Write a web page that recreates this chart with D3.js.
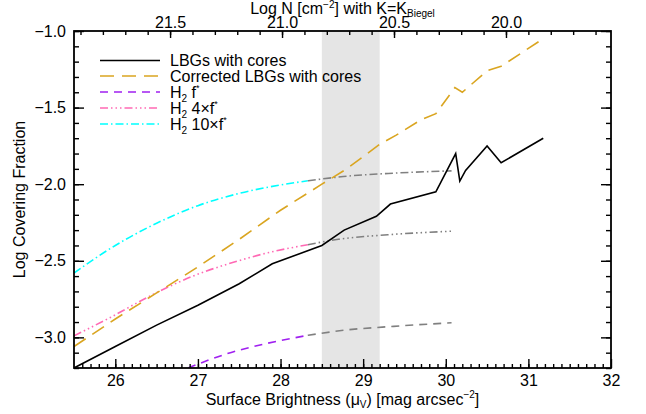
<!DOCTYPE html>
<html>
<head>
<meta charset="utf-8">
<script src="https://cdn.jsdelivr.net/npm/d3@7"></script>
<style>
  body { margin: 0; background: #fff; }
  svg text { font-family: "Liberation Sans", Arial, sans-serif; fill: #000; }
</style>
</head>
<body>
<svg id="chart" width="646" height="414"></svg>
<script>
// surface brightness (mag arcsec^-2) vs log covering fraction

var lbgMu  = [25.5, 26.0, 26.5, 27.0, 27.5, 27.9, 28.5, 28.77, 29.16, 29.33, 29.88, 30.12, 30.17, 30.24, 30.5, 30.67, 31.18];
var lbgCov = [-3.2, -3.06, -2.92, -2.79, -2.65, -2.52, -2.40, -2.30, -2.21, -2.13, -2.05, -1.80, -1.98, -1.91, -1.75, -1.86, -1.70];

var corrMu  = [25.5, 26.0, 26.5, 27.0, 27.5, 28.0, 28.5, 28.8, 29.2, 29.4, 29.7, 29.88, 30.11, 30.2, 30.5, 30.67, 31.18];
var corrCov = [-3.06, -2.88, -2.71, -2.54, -2.36, -2.17, -2.00, -1.90, -1.74, -1.68, -1.58, -1.54, -1.37, -1.40, -1.26, -1.23, -1.05];

// H2 models, the part past muSplit is drawn grey
var muSplit = 28.33;
var h2Mu  = [26.88, 27.35, 27.83, 28.33, 28.76, 29.37, 30.07];
var h2Cov = [-3.20, -3.107, -3.04, -2.987, -2.954, -2.928, -2.905];

var h2x4Mu  = [25.5, 25.94, 26.42, 26.94, 27.43, 27.83, 28.33, 28.7, 29.3, 30.07];
var h2x4Cov = [-2.99, -2.87, -2.73, -2.60, -2.51, -2.45, -2.395, -2.36, -2.33, -2.307];

var h2x10Mu  = [25.5, 26.0, 26.5, 27.0, 27.5, 28.0, 28.33, 28.76, 29.37, 30.07];
var h2x10Cov = [-2.58, -2.40, -2.255, -2.14, -2.06, -2.005, -1.978, -1.95, -1.928, -1.913];

var band = [28.5, 29.2];

var xTicks = [26, 27, 28, 29, 30, 31, 32];
var yTicks = [-3.0, -2.5, -2.0, -1.5, -1.0];
var topTicks = [21.5, 21.0, 20.5, 20.0];

var svg = d3.select("#chart");
var margin = {top: 31, right: 35, bottom: 46, left: 74};
var width = 646 - margin.left - margin.right, height = 414 - margin.top - margin.bottom;
var g = svg.append("g").attr("transform", "translate(" + margin.left + "," + margin.top + ")");

var x = d3.scaleLinear().domain([25.5, 32]).range([0, width]);
var y = d3.scaleLinear().domain([-3.2, -1.0]).range([height, 0]);
var xTop = d3.scaleLinear().domain([21.929, 19.531]).range([0, width]);

g.append("defs").append("clipPath").attr("id", "clip")
  .append("rect").attr("width", width).attr("height", height);

g.append("rect")
  .attr("x", x(band[0])).attr("y", 0)
  .attr("width", x(band[1]) - x(band[0])).attr("height", height)
  .attr("fill", "#e5e5e5");

var line = d3.line().x(function(d){ return x(d[0]); }).y(function(d){ return y(d[1]); });
var smooth = d3.line().curve(d3.curveMonotoneX).x(function(d){ return x(d[0]); }).y(function(d){ return y(d[1]); });

function pairs(a, b){ return a.map(function(v, i){ return [v, b[i]]; }); }

var styles = {
  lbg:   {color: "#000000", dash: null, w: 1.6},
  corr:  {color: "#DAA520", dash: "14,8", w: 1.6},
  h2:    {color: "#A020F0", dash: "8,6", w: 1.6},
  h2x4:  {color: "#FF69B4", dash: "8,3,1.5,3,1.5,3,1.5,3", w: 1.6},
  h2x10: {color: "#00FFFF", dash: "8,3,1.5,3", w: 1.6}
};

var plot = g.append("g").attr("clip-path", "url(#clip)");

function drawSeries(data, st, color, gen){
  plot.append("path")
    .datum(data)
    .attr("d", gen || line)
    .attr("fill", "none")
    .attr("stroke", color || st.color)
    .attr("stroke-width", st.w)
    .attr("stroke-dasharray", st.dash);
}

function drawModel(mu, cov, st){
  var all = pairs(mu, cov);
  drawSeries(all.filter(function(d){ return d[0] <= muSplit; }), st, null, smooth);
  drawSeries(all.filter(function(d){ return d[0] >= muSplit; }), st, "#808080", smooth);
}

drawModel(h2Mu, h2Cov, styles.h2);
drawModel(h2x4Mu, h2x4Cov, styles.h2x4);
drawModel(h2x10Mu, h2x10Cov, styles.h2x10);
drawSeries(pairs(corrMu, corrCov), styles.corr);
drawSeries(pairs(lbgMu, lbgCov), styles.lbg);

// axes: major + minor ticks, pointing inward
function minor(lo, hi, step){ return d3.range(Math.round(lo / step), Math.round(hi / step) + 1).map(function(i){ return +(i * step).toFixed(2); }); }
var fmt = function(d){ return d3.format(".1f")(d).replace("-", "\u2212"); };

g.append("g").attr("transform", "translate(0," + height + ")")
  .call(d3.axisTop(x).tickValues(minor(25.6, 31.9, 0.1)).tickSize(4).tickFormat(""));
g.append("g").attr("transform", "translate(0," + height + ")")
  .call(d3.axisTop(x).tickValues(xTicks).tickSize(9).tickFormat(""));
g.append("g").attr("class", "lbl").attr("transform", "translate(0," + height + ")")
  .call(d3.axisBottom(x).tickValues(xTicks).tickSize(0).tickPadding(7).tickFormat(d3.format("d")));

g.append("g").call(d3.axisRight(y).tickValues(minor(-3.2, -1.0, 0.1)).tickSize(5).tickFormat(""));
g.append("g").call(d3.axisRight(y).tickValues(yTicks).tickSize(10).tickFormat(""));
g.append("g").attr("class", "lbl").call(d3.axisLeft(y).tickValues(yTicks).tickSize(0).tickPadding(8).tickFormat(fmt));

g.append("g").attr("transform", "translate(" + width + ",0)")
  .call(d3.axisLeft(y).tickValues(minor(-3.2, -1.0, 0.1)).tickSize(5).tickFormat(""));
g.append("g").attr("transform", "translate(" + width + ",0)")
  .call(d3.axisLeft(y).tickValues(yTicks).tickSize(10).tickFormat(""));

g.append("g").call(d3.axisBottom(xTop).tickValues(minor(19.6, 21.9, 0.1)).tickSize(4).tickFormat(""));
g.append("g").call(d3.axisBottom(xTop).tickValues(topTicks).tickSize(7).tickFormat(""));
g.append("g").attr("class", "lbl").call(d3.axisTop(xTop).tickValues(topTicks).tickSize(0).tickPadding(3).tickFormat(d3.format(".1f")));

g.selectAll(".domain").remove();
g.selectAll(".tick line").attr("stroke", "#000").attr("stroke-width", 1.4);
g.selectAll(".lbl text").attr("font-size", 16).style("font-family", "Liberation Sans, Arial, sans-serif");

g.append("rect").attr("width", width).attr("height", height)
  .attr("fill", "none").attr("stroke", "#000").attr("stroke-width", 1.8);

// titles
var bt = svg.append("text").attr("x", margin.left + width / 2).attr("y", 405)
  .attr("text-anchor", "middle").attr("font-size", 16);
bt.append("tspan").text("Surface Brightness (\u03bc");
bt.append("tspan").attr("font-size", 10).attr("dy", 3).text("V");
bt.append("tspan").attr("dy", -3).text(") [mag arcsec");
bt.append("tspan").attr("font-size", 10).attr("dy", -7).text("\u22122");
bt.append("tspan").attr("dy", 7).text("]");

var tt = svg.append("text").attr("x", margin.left + width / 2).attr("y", 14)
  .attr("text-anchor", "middle").attr("font-size", 16);
tt.append("tspan").text("Log N [cm");
tt.append("tspan").attr("font-size", 10).attr("dy", -6).text("\u22122");
tt.append("tspan").attr("dy", 6).text("] with K=K");
tt.append("tspan").attr("font-size", 10).attr("dy", 3).text("Biegel");

svg.append("text")
  .attr("transform", "translate(25," + (margin.top + height / 2) + ") rotate(-90)")
  .attr("text-anchor", "middle").attr("font-size", 16)
  .text("Log Covering Fraction");

// legend
var legendRows = [
  {st: styles.lbg,   parts: [["LBGs with cores"]]},
  {st: styles.corr,  parts: [["Corrected LBGs with cores"]]},
  {st: styles.h2,    parts: [["H"], ["2", "sub"], [" f"], ["*", "sup"]]},
  {st: styles.h2x4,  parts: [["H"], ["2", "sub"], [" 4\u00d7f"], ["*", "sup"]]},
  {st: styles.h2x10, parts: [["H"], ["2", "sub"], [" 10\u00d7f"], ["*", "sup"]]}
];
var legY = [60.5, 76, 92, 108, 124];

var leg = svg.append("g");
legendRows.forEach(function(r, i){
  leg.append("line")
    .attr("x1", 100).attr("x2", 160).attr("y1", legY[i]).attr("y2", legY[i])
    .attr("stroke", r.st.color).attr("stroke-width", r.st.w).attr("stroke-dasharray", r.st.dash);
  var t = leg.append("text").attr("x", 170).attr("y", legY[i] + 5.5).attr("font-size", 16);
  var shift = 0;
  r.parts.forEach(function(p){
    var dy = 0, fs = 16;
    if (p[1] === "sub") { dy = 4 - shift; fs = 10; shift = 4; }
    else if (p[1] === "sup") { dy = -7 - shift; fs = 9; shift = -7; }
    else { dy = -shift; shift = 0; }
    t.append("tspan").attr("dy", dy).attr("font-size", fs).text(p[0]);
  });
});
</script>
</body>
</html>
